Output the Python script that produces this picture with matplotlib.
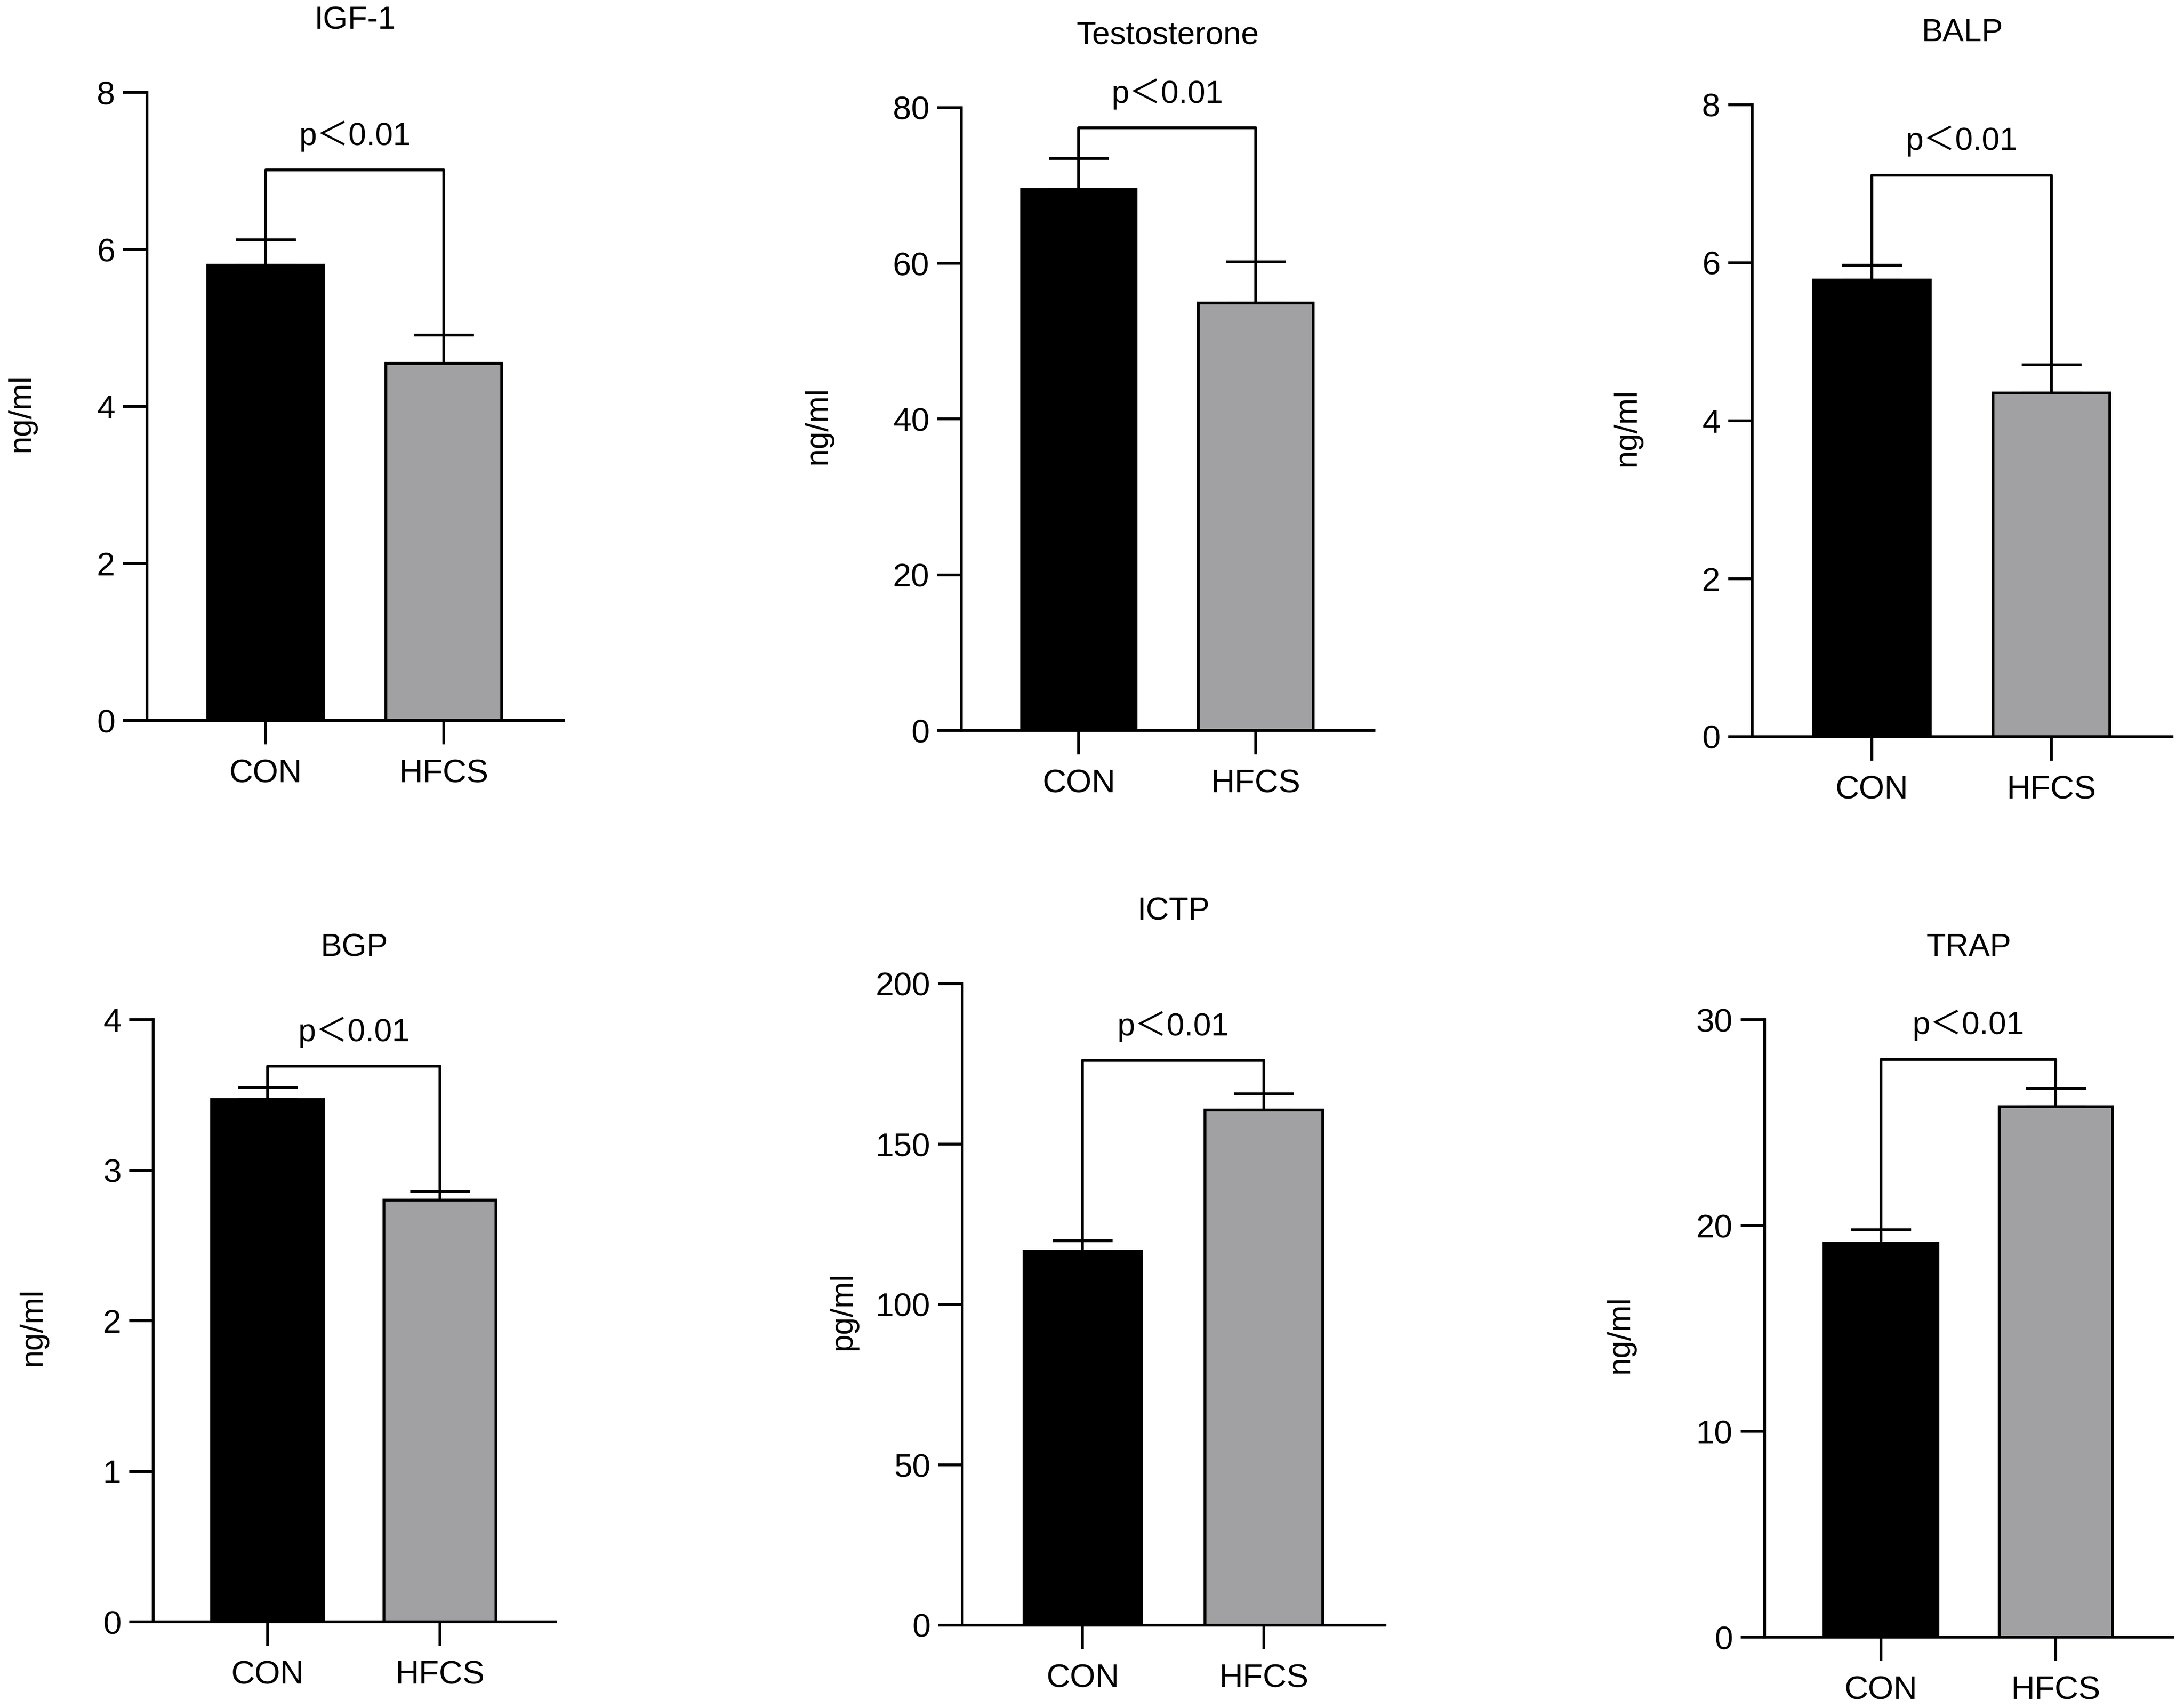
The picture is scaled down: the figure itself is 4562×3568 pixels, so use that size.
import matplotlib as mpl
import matplotlib.pyplot as plt
import numpy as np

# data (mean, upper error)
groups = ['CON', 'HFCS']
titles = ['IGF-1', 'Testosterone', 'BALP', 'BGP', 'ICTP', 'TRAP']
units = ['ng/ml', 'ng/ml', 'ng/ml', 'ng/ml', 'pg/ml', 'ng/ml']

igf1_mean = [5.80, 4.55]
igf1_err = [0.32, 0.36]
testo_mean = [69.5, 54.9]
testo_err = [4.0, 5.3]
balp_mean = [5.78, 4.35]
balp_err = [0.19, 0.36]
bgp_mean = [3.47, 2.80]
bgp_err = [0.08, 0.06]
ictp_mean = [116.6, 160.6]
ictp_err = [3.3, 5.1]
trap_mean = [19.13, 25.76]
trap_err = [0.66, 0.89]

y_max = [8, 80, 8, 4, 200, 30]
y_step = [2, 20, 2, 1, 50, 10]
p_text = 'p＜0.01'

means = [igf1_mean, testo_mean, balp_mean, bgp_mean, ictp_mean, trap_mean]
errs = [igf1_err, testo_err, balp_err, bgp_err, ictp_err, trap_err]

# layout (pixels in the 4562x3568 image): spine x, right end, top y, zero y, ylabel x
W, H = 4562, 3568
boxes = [
    (307, 1177, 193, 1505, 46),
    (2008, 2870, 225, 1526, 1710),
    (3660, 4537, 219, 1539, 3400),
    (320, 1160, 2130, 3388, 70),
    (2010, 2893, 2055, 3395, 1762),
    (3686, 4539, 2130, 3420, 3386),
]
bracket_y = [7.01, 77.4, 7.11, 3.69, 176.1, 28.08]

plt.rcParams['font.family'] = ['Liberation Sans', 'Noto Sans CJK SC']
plt.rcParams['axes.linewidth'] = 1.4
lw = 1.4

fig = plt.figure(figsize=(W / 300, H / 300), dpi=300)
colors = ['black', '#a1a1a4']
x = np.arange(len(groups))

for i in range(len(titles)):
    sx, rx, ty, zy, lx = boxes[i]
    ax = fig.add_axes([sx / W, 1 - zy / H, (rx - sx) / W, (zy - ty) / H])

    ax.bar(x, means[i], width=0.65, color=colors, edgecolor='black', linewidth=lw, zorder=2)
    ax.errorbar(x, means[i], yerr=[np.zeros(2), errs[i]], fmt='none', ecolor='black',
                elinewidth=lw, capsize=15, capthick=lw, zorder=1)

    tops = [m + e for m, e in zip(means[i], errs[i])]
    ax.plot([0, 0, 1, 1], [tops[0], bracket_y[i], bracket_y[i], tops[1]],
            color='black', linewidth=lw, clip_on=False)
    ax.annotate(p_text, xy=(0.5, bracket_y[i]), xytext=(0, 17), textcoords='offset points',
                ha='center', va='center', fontsize=16, annotation_clip=False)

    ax.set_xlim(-0.665, 1.67)
    ax.set_ylim(0, y_max[i])
    ax.yaxis.set_major_locator(mpl.ticker.MultipleLocator(y_step[i]))
    ax.set_xticks(x)
    ax.set_xticklabels(groups, fontsize=16.5)
    ax.tick_params(axis='y', labelsize=16.5, length=12, width=lw, pad=4)
    ax.tick_params(axis='x', length=12, width=lw, pad=7)
    for side in ['top', 'right']:
        ax.spines[side].set_visible(False)

    ax.set_ylabel(units[i], fontsize=16)
    ax.yaxis.set_label_coords((lx + 30 - sx) / (rx - sx), 0.49)
    ax.annotate(titles[i], xy=(0.5, 1), xycoords='axes fraction', xytext=(0, 36),
                textcoords='offset points', ha='center', va='center', fontsize=16)

plt.savefig('out.png', dpi=300)
